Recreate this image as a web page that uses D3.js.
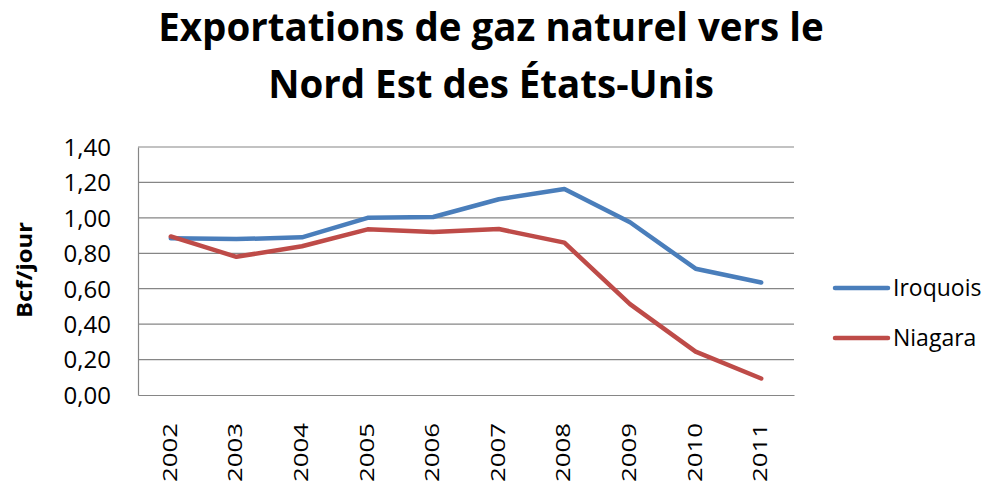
<!DOCTYPE html>
<html>
<head>
<meta charset="utf-8">
<script src="https://cdn.jsdelivr.net/npm/d3@7"></script>
<style>
  body { margin: 0; background: #fff; }
  text { font-family: "Open Sans", sans-serif; fill: #000; }
</style>
</head>
<body>
<svg id="chart" width="990" height="485"></svg>
<script>
const years = ['2002', '2003', '2004', '2005', '2006', '2007', '2008', '2009', '2010', '2011']
const iroquois = [0.885, 0.88, 0.89, 1.00, 1.005, 1.105, 1.163, 0.975, 0.713, 0.635]
const niagara = [0.895, 0.78, 0.84, 0.935, 0.92, 0.937, 0.86, 0.513, 0.245, 0.093]
const yTicks = [0, 0.2, 0.4, 0.6, 0.8, 1.0, 1.2, 1.4]
const titleLines = ['Exportations de gaz naturel vers le', 'Nord Est des États-Unis']

const series = [
  { name: 'Iroquois', values: iroquois, color: '#4a7ebb' },
  { name: 'Niagara', values: niagara, color: '#be4b48' }
]

const width = 990
const height = 485
const margin = { top: 147, right: 196, bottom: 90, left: 138 }

const svg = d3.select('#chart')

const x = d3.scaleBand()
  .domain(years)
  .range([margin.left, width - margin.right])

const y = d3.scaleLinear()
  .domain([0, 1.4])
  .range([height - margin.bottom, margin.top])

// Title
svg.append('g')
  .selectAll('text')
  .data(titleLines)
  .enter()
    .append('text')
    .attr('x', 491)
    .attr('y', (d, i) => 41 + i * 57)
    .attr('text-anchor', 'middle')
    .style('font-size', '38.5px')
    .style('font-weight', 'bold')
    .text(d => d)

// Gridlines
svg.append('g')
  .selectAll('line')
  .data(yTicks.slice(1))
  .enter()
    .append('line')
    .attr('x1', margin.left)
    .attr('x2', width - margin.right)
    .attr('y1', d => y(d))
    .attr('y2', d => y(d))
    .attr('stroke', '#868686')
    .attr('stroke-width', 1.2)

// Y axis
const yAxis = svg.append('g')
  .attr('transform', `translate(${margin.left}, 0)`)
  .call(d3.axisLeft(y).tickValues(yTicks).tickSize(0).tickPadding(27)
    .tickFormat(d => d3.format('.2f')(d).replace('.', ',')))
yAxis.select('.domain').attr('stroke', '#868686').attr('stroke-width', 1.2)
yAxis.selectAll('text')
  .style('font-size', '24px')
  .style('font-family', '"Open Sans", sans-serif')
  .attr('dy', '0.35em')

// X axis (labels are stretched along their length like the original)
const xAxis = svg.append('g')
  .attr('transform', `translate(0, ${height - margin.bottom})`)
  .call(d3.axisBottom(x).tickSize(0).tickSizeOuter(0))
xAxis.select('.domain').attr('stroke', '#868686').attr('stroke-width', 1.2)
xAxis.selectAll('text')
  .style('font-size', '20px')
  .style('font-family', '"Open Sans", sans-serif')
  .style('text-anchor', 'end')
  .attr('transform', 'rotate(-90)')
  .attr('x', -28)
  .attr('y', -1)
  .attr('dy', '0.35em')
  .attr('textLength', 59)
  .attr('lengthAdjust', 'spacingAndGlyphs')

// Y axis title
svg.append('text')
  .attr('transform', 'translate(32, 270) rotate(-90)')
  .attr('text-anchor', 'middle')
  .attr('textLength', 96)
  .attr('lengthAdjust', 'spacingAndGlyphs')
  .style('font-size', '21px')
  .style('font-weight', 'bold')
  .text('Bcf/jour')

// Lines
const line = d3.line()
  .x((d, i) => x(years[i]) + x.bandwidth() / 2)
  .y(d => y(d))

svg.append('g')
  .selectAll('path')
  .data(series)
  .enter()
    .append('path')
    .attr('d', d => line(d.values))
    .attr('fill', 'none')
    .attr('stroke', d => d.color)
    .attr('stroke-width', 4.5)
    .attr('stroke-linejoin', 'round')
    .attr('stroke-linecap', 'round')

// Legend
const legend = svg.append('g')
  .selectAll('g')
  .data(series)
  .enter()
    .append('g')
    .attr('transform', (d, i) => `translate(835, ${288 + i * 50})`)

legend.append('line')
  .attr('x1', 0)
  .attr('x2', 53)
  .attr('stroke', d => d.color)
  .attr('stroke-width', 4.5)
  .attr('stroke-linecap', 'round')

legend.append('text')
  .attr('x', 58)
  .attr('dy', '0.36em')
  .style('font-size', '23px')
  .text(d => d.name)
</script>
</body>
</html>
